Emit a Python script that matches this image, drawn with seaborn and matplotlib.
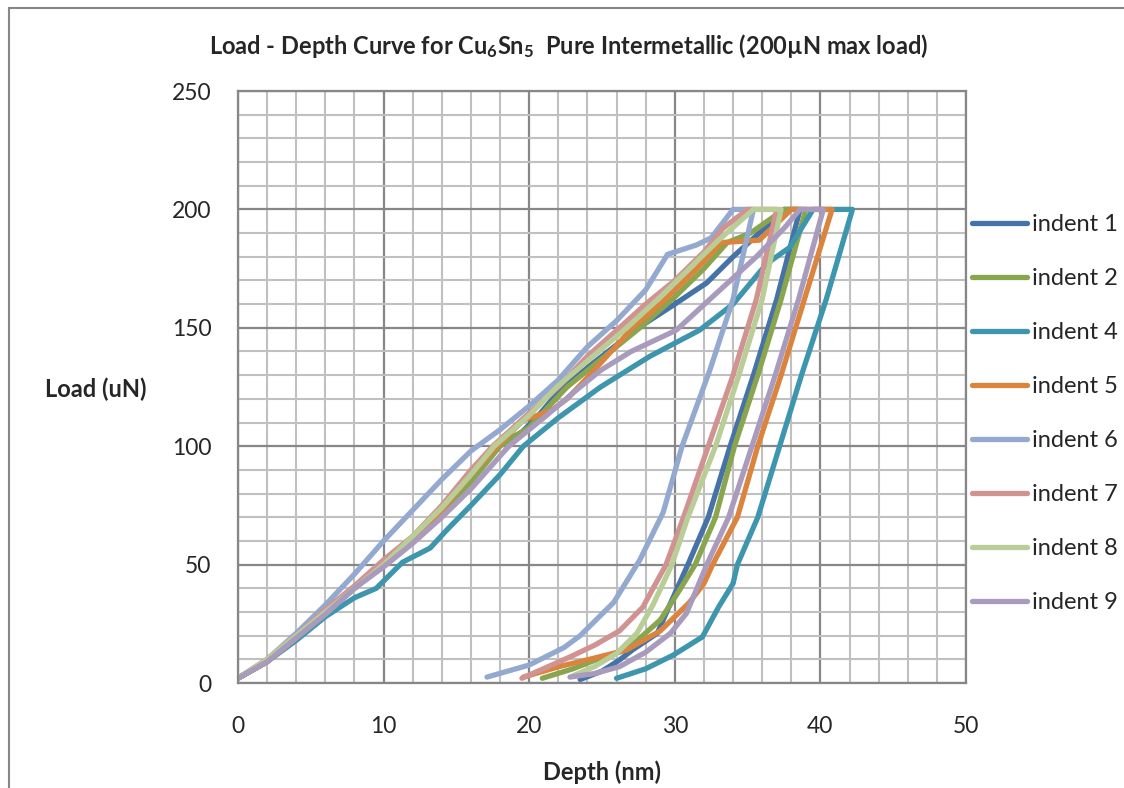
import matplotlib
matplotlib.use('Agg')
import matplotlib.pyplot as plt
import seaborn as sns
import pandas as pd
from matplotlib.ticker import MultipleLocator
from matplotlib.patches import Rectangle
from matplotlib.lines import Line2D

# depth (nm) / load (uN) traces: loading, hold, unloading
d1 = [0, 2, 4, 6, 8, 10, 12, 14, 16, 17.8, 19.5, 20.5, 22.3, 25, 27.5, 30, 32.2, 34, 36.7, 37.5, 38.6,
      37.0, 35.4, 33.8, 32.3, 30.9, 29.8, 28.8, 27.1, 26.2, 25.0, 23.5]
l1 = [2, 9, 19, 30, 40, 50, 61, 73, 86, 100, 106, 112, 125, 138, 150, 160, 169, 180, 195, 200, 200,
      162, 130, 100, 70, 50, 35, 21, 14, 9.7, 5, 1.5]

d2 = [0, 2, 4, 6, 8, 10, 12, 14, 16, 18, 20, 22.6, 25, 27.6, 30, 32, 33.6, 35.2, 37.5, 39.0,
      37.3, 35.7, 34.1, 32.8, 31.4, 30.2, 29.0, 26.7, 25.1, 23.0, 20.9]
l2 = [2, 9, 19, 29, 40, 50, 61, 72, 85, 100, 108, 125, 137, 150, 163, 175, 186, 190, 200, 200,
      162, 130, 100, 70, 50, 38, 26.6, 14, 11, 6, 2]

d4 = [0, 2, 4, 6, 8, 9.5, 11.3, 13.2, 14.4, 16, 18, 19.6, 22, 24.9, 28.3, 31.7, 34, 36.3, 37.9, 39.5, 42.2,
      40.4, 38.7, 37.2, 35.7, 34.3, 34.0, 33.0, 31.9, 29.9, 28.0, 26.0]
l4 = [2, 9, 18, 28, 36, 40, 51, 57, 65, 75, 88, 100, 112, 125, 138, 149, 160, 177, 184, 200, 200,
      162, 130, 100, 70, 50, 42, 32, 19.5, 11.8, 6, 2]

d5 = [0, 2, 4, 6, 8, 10, 12, 14, 16, 17.8, 19.6, 21.5, 22.6, 24, 27.1, 29, 31.5, 33.2, 35.8, 37, 38, 40.8,
      38.9, 37.3, 35.7, 34.3, 32.6, 32.0, 31.0, 29.0, 26.7, 24.4, 22.1, 19.6]
l5 = [2, 9, 19, 30, 40, 50, 61, 73, 88, 100, 111, 115, 120, 129, 150, 160, 175, 186, 187, 194, 200, 200,
      162, 130, 100, 70, 50, 42, 34, 22, 14, 10.4, 7, 2.5]

d6 = [0, 2, 4, 6, 8, 10, 12, 14, 16, 18, 20, 22, 24, 26, 28, 29.5, 31.5, 32.5, 34.0, 35.4,
      34.0, 32.4, 30.5, 29.2, 27.6, 25.8, 23.5, 22.4, 20.0, 17.1]
l6 = [2, 10, 21, 33, 46, 60, 73, 86, 98, 107, 117, 128, 142, 153, 166, 181, 185, 188, 200, 200,
      162, 132, 100, 72, 52, 34, 20, 15, 7.6, 2.5]

d7 = [0, 2, 4, 6, 8, 10, 12, 14, 16, 17.5, 20, 22, 24, 26.2, 28, 30, 32, 33.3, 35.0, 37.0,
      35.6, 34.0, 32.3, 30.6, 29.4, 27.8, 26.2, 24.5, 22.8, 19.5]
l7 = [2, 10, 20, 31, 41, 52, 62, 75, 90, 100, 114, 125, 138, 150, 160, 170, 182, 192, 200, 200,
      162, 130, 100, 70, 50, 32, 22, 16, 11, 2]

d8 = [0, 2, 4, 6, 8, 10, 12, 14, 16, 17.6, 20, 21.9, 24, 26.7, 29, 31, 33, 35.4, 37.3,
      36.0, 34.4, 32.8, 30.9, 29.8, 28.5, 27.4, 26.0, 24.5, 23.0]
l8 = [2, 10, 20, 30, 40, 50, 62, 74, 88, 100, 113, 125, 136, 150, 163, 175, 187, 200, 200,
      162, 130, 100, 70, 50, 33, 21, 12.5, 7, 3]

d9 = [0, 2, 4, 6, 8, 10, 12, 14, 16, 18.6, 21, 23.5, 24.9, 27, 30.1, 32.4, 35.6, 37.5, 38.6, 40.2,
      38.5, 36.9, 35.3, 33.7, 32.2, 30.8, 29.7, 28, 26.2, 24.5, 22.8]
l9 = [2, 9, 19, 29, 40, 49, 59, 70, 82, 100, 112, 125, 132, 140, 149, 162, 180, 192, 200, 200,
      162, 130, 100, 70, 50, 29.4, 21, 13, 6.9, 4, 2.5]

names = ['indent 1', 'indent 2', 'indent 4', 'indent 5', 'indent 6', 'indent 7', 'indent 8', 'indent 9']
depths = [d1, d2, d4, d5, d6, d7, d8, d9]
loads = [l1, l2, l4, l5, l6, l7, l8, l9]
colors = ['#4572A7', '#89A54E', '#3D96AE', '#DB843D', '#93A9CF', '#D19392', '#B9CD96', '#A99BBD']

rows = []
for n, d, l in zip(names, depths, loads):
    for x, y in zip(d, l):
        rows.append((n, x, y))
df = pd.DataFrame(rows, columns=['indent', 'depth', 'load'])

sns.set_style('white')
plt.rcParams['font.family'] = ['Lato', 'DejaVu Sans']
plt.rcParams['mathtext.default'] = 'regular'

fig = plt.figure(figsize=(11.24, 7.88), dpi=100)
ax = fig.add_axes([238 / 1124, 1 - 683 / 788, (966 - 238) / 1124, (683 - 91) / 788])

sns.lineplot(data=df, x='depth', y='load', hue='indent', hue_order=names,
             palette=dict(zip(names, colors)), sort=False, estimator=None,
             lw=3.8, legend=False, ax=ax)
for ln in ax.lines:
    ln.set_solid_capstyle('round')
    ln.set_solid_joinstyle('round')

ax.set_xlim(0, 50)
ax.set_ylim(0, 250)
ax.xaxis.set_major_locator(MultipleLocator(10))
ax.yaxis.set_major_locator(MultipleLocator(50))
ax.xaxis.set_minor_locator(MultipleLocator(2))
ax.yaxis.set_minor_locator(MultipleLocator(10))
ax.set_axisbelow(True)
ax.grid(which='minor', color='#C0C0C0', lw=1.5)
ax.grid(which='major', color='#878787', lw=1.6)
for s in ['left', 'bottom', 'top', 'right']:
    ax.spines[s].set_color('#878787')
    ax.spines[s].set_linewidth(1.6)
ax.tick_params(which='major', direction='out', length=6, width=1.6, color='#878787',
               labelsize=16.5)
ax.tick_params(which='minor', length=0)
ax.tick_params(axis='x', pad=18)
ax.tick_params(axis='y', pad=13)
ax.set_xlabel('')
ax.set_ylabel('')

fig.text(602 / 1124, 1 - 772 / 788, 'Depth (nm)', fontsize=17, fontweight='bold',
         ha='center', va='center')
fig.text(96 / 1124, 1 - 389 / 788, 'Load (uN)', fontsize=17, fontweight='bold',
         ha='center', va='center')

fig.text(569 / 1124, 1 - 46 / 788,
         'Load - Depth Curve for Cu$_6$Sn$_5$  Pure Intermetallic (200µN max load)',
         fontsize=17, fontweight='bold', ha='center', va='center')

handles = [Line2D([], [], color=c, lw=3.8, solid_capstyle='round') for c in colors]
fig.legend(handles, names, loc='upper left', bbox_to_anchor=(972 / 1124, 1 - 214 / 788),
           frameon=False, fontsize=17, handlelength=2.35, handletextpad=0.2,
           labelspacing=1.4, borderaxespad=0, borderpad=0)

fig.patches.append(Rectangle((9 / 1124, -0.1), 1.2, 1 - 8 / 788 + 0.1, transform=fig.transFigure,
                             fill=False, edgecolor='#878787', lw=1.5))

fig.savefig('out.png', dpi=100)
